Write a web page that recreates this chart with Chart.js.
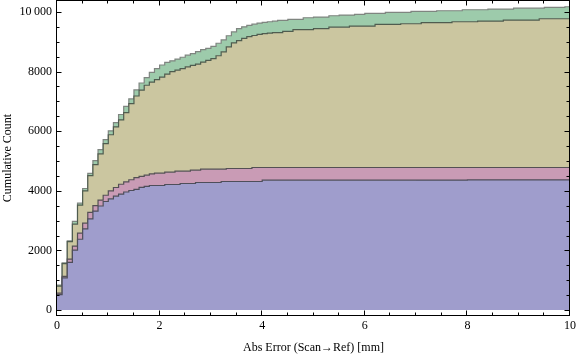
<!doctype html>
<html>
<head>
<meta charset="utf-8" />
<title>Cumulative Count vs Abs Error</title>
<script src="https://cdn.jsdelivr.net/npm/chart.js@4.4.1/dist/chart.umd.min.js"></script>
<style>
  html, body { margin: 0; padding: 0; background: #fff; }
  canvas { display: block; }
</style>
</head>
<body>
<canvas id="chart" width="576" height="357"></canvas>
<script>
// histogram bins are 0.1 mm wide, values are stacked cumulative totals at each bin
const binWidth = 0.1;

const blueCum = [
  520, 1080, 1600, 2010, 2375, 2720, 3055, 3320, 3490, 3640,
  3730, 3820, 3890, 3960, 4010, 4050, 4115, 4150, 4177, 4177,
  4177, 4211, 4211, 4211, 4244, 4244, 4244, 4278, 4278, 4278,
  4278, 4278, 4311, 4311, 4311, 4311, 4311, 4311, 4311, 4311,
  4355, 4355, 4355, 4355, 4355, 4355, 4355, 4355, 4355, 4355,
  4355, 4355, 4355, 4355, 4355, 4355, 4355, 4355, 4355, 4355,
  4355, 4355, 4355, 4355, 4355, 4355, 4355, 4355, 4355, 4355,
  4360, 4360, 4360, 4360, 4360, 4360, 4360, 4360, 4360, 4360,
  4365, 4365, 4365, 4365, 4365, 4365, 4365, 4365, 4365, 4365,
  4365, 4365, 4365, 4365, 4365, 4365, 4365, 4365, 4365, 4365
];

const pinkCum = [
  570, 1130, 1710, 2144, 2580, 2915, 3275, 3500, 3690, 3850,
  4000, 4110, 4220, 4300, 4370, 4440, 4485, 4523, 4566, 4590,
  4590, 4623, 4623, 4657, 4657, 4657, 4690, 4690, 4724, 4724,
  4724, 4724, 4724, 4747, 4747, 4747, 4747, 4747, 4781, 4781,
  4781, 4781, 4781, 4781, 4781, 4781, 4781, 4781, 4781, 4781,
  4781, 4781, 4781, 4781, 4781, 4781, 4781, 4781, 4781, 4781,
  4781, 4781, 4781, 4781, 4781, 4781, 4781, 4781, 4781, 4781,
  4781, 4781, 4781, 4781, 4781, 4781, 4781, 4781, 4781, 4781,
  4781, 4781, 4781, 4781, 4781, 4781, 4781, 4781, 4781, 4781,
  4781, 4781, 4781, 4781, 4781, 4781, 4781, 4781, 4781, 4781
];

const khakiCum = [
  800, 1555, 2295, 2881, 3520, 3997, 4510, 4880, 5240, 5580,
  5880, 6141, 6377, 6620, 6924, 7180, 7380, 7540, 7648, 7729,
  7810, 7915, 7995, 8050, 8097, 8160, 8210, 8250, 8318, 8375,
  8432, 8530, 8660, 8830, 8960, 9040, 9110, 9170, 9210, 9250,
  9270, 9290, 9303, 9303, 9347, 9347, 9403, 9403, 9403, 9403,
  9437, 9437, 9437, 9490, 9490, 9490, 9490, 9524, 9524, 9524,
  9524, 9524, 9581, 9581, 9581, 9581, 9581, 9604, 9604, 9604,
  9604, 9638, 9638, 9638, 9638, 9638, 9638, 9671, 9671, 9671,
  9671, 9671, 9692, 9692, 9692, 9692, 9692, 9725, 9725, 9725,
  9725, 9725, 9725, 9725, 9771, 9771, 9771, 9771, 9771, 9771
];

const greenCum = [
  835, 1580, 2320, 2975, 3585, 4077, 4585, 5010, 5384, 5718,
  6010, 6288, 6560, 6834, 7080, 7385, 7615, 7795, 7975, 8097,
  8220, 8305, 8360, 8420, 8480, 8550, 8600, 8670, 8733, 8775,
  8844, 8950, 9060, 9200, 9330, 9440, 9500, 9550, 9590, 9625,
  9650, 9670, 9690, 9715, 9715, 9750, 9750, 9750, 9805, 9805,
  9826, 9826, 9826, 9872, 9872, 9893, 9893, 9893, 9916, 9916,
  9950, 9950, 9950, 9950, 9983, 9983, 9983, 9983, 9983, 10017,
  10017, 10017, 10017, 10017, 10040, 10040, 10040, 10040, 10040, 10073,
  10073, 10073, 10073, 10073, 10094, 10094, 10094, 10094, 10094, 10127,
  10127, 10127, 10127, 10127, 10127, 10150, 10150, 10150, 10150, 10174
];

const xTickValues = [0, 2, 4, 6, 8, 10];
const yTickValues = [0, 2000, 4000, 6000, 8000, 10000];
const yTickLabels = ["0", "2000", "4000", "6000", "8000", "10\u2009000"];

const serif = "'Liberation Serif', 'Times New Roman', serif";

// bin left edges + closing point at the right end
function toSteps(values) {
  const pts = values.map((v, i) => ({ x: i * binWidth, y: v }));
  pts.push({ x: values.length * binWidth, y: values[values.length - 1] });
  return pts;
}

function layer(values, fillColor, lineColor, fill) {
  return {
    data: toSteps(values),
    stepped: true,
    fill: fill,
    backgroundColor: fillColor,
    borderColor: lineColor,
    borderWidth: 1.2,
    pointRadius: 0,
    tension: 0
  };
}

// Mathematica-like frame with inward ticks on all four sides
const frameTicks = {
  id: "frameTicks",
  afterDraw(chart) {
    const { ctx, chartArea: a, scales: { x, y } } = chart;
    const L = Math.round(a.left) - 0.5, R = Math.round(a.right) - 0.5;
    const T = Math.round(a.top) + 0.5, B = Math.round(a.bottom) - 0.5;
    ctx.save();
    ctx.strokeStyle = "#000";
    ctx.lineWidth = 1;
    ctx.strokeRect(L, T, R - L, B - T);
    ctx.beginPath();
    for (let v = 0; v <= 10; v += 0.5) {
      const px = Math.round(x.getPixelForValue(v)) - 0.5;
      const len = xTickValues.includes(v) ? 5 : 3;
      ctx.moveTo(px, B); ctx.lineTo(px, B - len);
      ctx.moveTo(px, T); ctx.lineTo(px, T + len);
    }
    for (let v = 0; v <= 10000; v += 500) {
      const py = Math.round(y.getPixelForValue(v)) + 0.5;
      const len = yTickValues.includes(v) ? 5 : 3;
      ctx.moveTo(L, py); ctx.lineTo(L + len, py);
      ctx.moveTo(R, py); ctx.lineTo(R - len, py);
    }
    ctx.stroke();
    ctx.restore();
  }
};

new Chart(document.getElementById("chart"), {
  type: "line",
  data: {
    datasets: [
      layer(blueCum, "rgb(159,157,204)", "#4e4e5a", "origin"),
      layer(pinkCum, "rgb(201,155,181)", "#545054", "-1"),
      layer(khakiCum, "rgb(203,198,160)", "#4f5c4f", "-1"),
      layer(greenCum, "rgb(157,203,171)", "#7f8580", "-1")
    ]
  },
  options: {
    responsive: false,
    animation: false,
    layout: { padding: { left: 0, right: 6, top: 0, bottom: 0 } },
    plugins: {
      legend: { display: false },
      tooltip: { enabled: false },
      filler: { propagate: false }
    },
    scales: {
      x: {
        type: "linear",
        min: 0,
        max: 10,
        grid: { display: false, drawTicks: false },
        border: { display: false },
        afterBuildTicks: (scale) => { scale.ticks = xTickValues.map((v) => ({ value: v })); },
        afterFit: (scale) => { scale.height = 41; scale.paddingLeft = 0; scale.paddingRight = 0; },
        ticks: { padding: 3, color: "#000", font: { family: serif, size: 12 }, maxRotation: 0 },
        title: {
          display: true,
          text: "Abs Error (Scan\u2192Ref) [mm]",
          color: "#000",
          font: { family: serif, size: 12 },
          padding: { top: 0, bottom: 2 }
        }
      },
      y: {
        type: "linear",
        min: -200,
        max: 10400,
        grid: { display: false, drawTicks: false },
        border: { display: false },
        afterBuildTicks: (scale) => { scale.ticks = yTickValues.map((v) => ({ value: v })); },
        afterFit: (scale) => { scale.width = 57; scale.paddingTop = 0; scale.paddingBottom = 0; },
        ticks: {
          padding: 5,
          color: "#000",
          font: { family: serif, size: 12 },
          callback: (v) => yTickLabels[yTickValues.indexOf(v)]
        },
        title: {
          display: true,
          text: "Cumulative Count",
          color: "#000",
          font: { family: serif, size: 12 },
          padding: { top: 1, bottom: 0 }
        }
      }
    }
  },
  plugins: [frameTicks]
});
</script>
</body>
</html>
